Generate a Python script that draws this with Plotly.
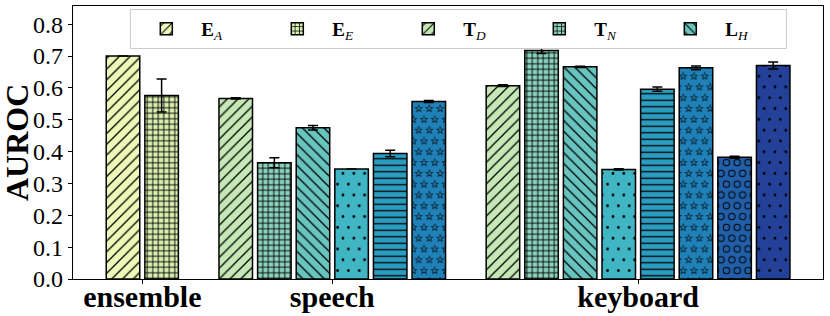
import math
import plotly.graph_objects as go

# ---------------- data ----------------
groups = ["ensemble", "speech", "keyboard"]
methods = ["E_A", "E_E", "T_D", "T_N", "L_H", "M_6", "M_7", "M_8", "M_9", "M_10"]
legend_labels = ["<b>E</b><sub><i>A</i></sub>", "<b>E</b><sub><i>E</i></sub>",
                 "<b>T</b><sub><i>D</i></sub>", "<b>T</b><sub><i>N</i></sub>",
                 "<b>L</b><sub><i>H</i></sub>"]

ensemble_methods = ["E_A", "E_E"]
ensemble_auroc = [0.700, 0.576]
ensemble_std = [0.0, 0.052]

speech_methods = ["T_D", "T_N", "L_H", "M_6", "M_7", "M_8"]
speech_auroc = [0.567, 0.365, 0.475, 0.345, 0.394, 0.557]
speech_std = [0.002, 0.016, 0.007, 0.0, 0.010, 0.003]

keyboard_methods = ["T_D", "T_N", "L_H", "M_6", "M_7", "M_8", "M_9", "M_10"]
keyboard_auroc = [0.607, 0.717, 0.666, 0.344, 0.596, 0.663, 0.382, 0.670]
keyboard_std = [0.003, 0.009, 0.002, 0.002, 0.007, 0.006, 0.003, 0.011]

y_ticks = [0.0, 0.1, 0.2, 0.3, 0.4, 0.5, 0.6, 0.7, 0.8]

# ---------------- styles ----------------
colors = ["#eef8b8", "#d9efb0", "#c5e8b6", "#8bd2bd", "#68c4be",
          "#40b5c4", "#2a9dc1", "#1f81b8", "#225fa9", "#24419a"]


def circle(cx, cy, r, sweep=0):
    return (f"M{cx - r:.2f},{cy:.2f}a{r:.2f},{r:.2f} 0 1,{sweep} {2 * r:.2f},0"
            f"a{r:.2f},{r:.2f} 0 1,{sweep} {-2 * r:.2f},0Z")


def star(cx, cy, R, r, reverse=False):
    pts = []
    for i in range(10):
        rad = R if i % 2 == 0 else r
        a = -math.pi / 2 + i * math.pi / 5
        pts.append((cx + rad * math.cos(a), cy + rad * math.sin(a)))
    if reverse:
        pts = pts[::-1]
    return "M" + "L".join(f"{x:.2f},{y:.2f}" for x, y in pts) + "Z"


def stagger_centers(s):
    return [(s / 2, s / 2), (1.5 * s, s / 2), (0, 1.5 * s), (s, 1.5 * s), (2 * s, 1.5 * s)]


S = 10.8
dots_path = "".join(circle(x, y, 1.4) for x, y in stagger_centers(S))
rings_path = "".join(circle(x, y, 3.7, 0) + circle(x, y, 2.7, 1) for x, y in stagger_centers(S))
stars_path = "".join(star(x, y, 4.4, 1.9) + star(x, y, 3.1, 1.1, True) for x, y in stagger_centers(S))

try:
    go.bar.marker.Pattern(path="M0,0L1,1Z")
    has_path = True
except Exception:
    has_path = False


def custom(path, fallback):
    if has_path:
        return dict(path=path, size=2 * S, solidity=0.5)
    return dict(shape=fallback, size=S, solidity=0.06)


patterns = [
    dict(shape="/", size=7.6, solidity=0.17),
    dict(shape="+", size=5.5, solidity=0.3),
    dict(shape="/", size=7.6, solidity=0.17),
    dict(shape="+", size=5.5, solidity=0.3),
    dict(shape="\\", size=7.6, solidity=0.17),
    custom(dots_path, "."),
    dict(shape="-", size=6.5, solidity=0.2),
    custom(stars_path, "x"),
    custom(rings_path, "."),
    custom(dots_path, "."),
]

# ---------------- positions (computed) ----------------
group_data = [
    (ensemble_methods, ensemble_auroc, ensemble_std),
    (speech_methods, speech_auroc, speech_std),
    (keyboard_methods, keyboard_auroc, keyboard_std),
]
gap = 1.92
bar_w = 0.868
positions = []
centers = []
start = 0.0
for mlist, _, _ in group_data:
    pos = [start + i for i in range(len(mlist))]
    positions.append(pos)
    centers.append(sum(pos) / len(pos))
    start = pos[-1] + gap

fig = go.Figure()
for mi, m in enumerate(methods):
    xs, ys, es = [], [], []
    for gi, (mlist, vals, stds) in enumerate(group_data):
        if m in mlist:
            k = mlist.index(m)
            xs.append(positions[gi][k])
            ys.append(vals[k])
            es.append(stds[k])
    pat = dict(fgcolor="black", bgcolor=colors[mi], fillmode="replace")
    pat.update(patterns[mi])
    fig.add_trace(go.Bar(
        x=xs, y=ys, width=bar_w,
        name=legend_labels[mi] if mi < 5 else m,
        showlegend=mi < 5,
        marker=dict(color=colors[mi], line=dict(color="black", width=1.5), pattern=pat),
        error_y=dict(type="data", array=es, visible=True, color="black", thickness=1.5, width=5),
    ))

serif = "Liberation Serif"
fig.update_layout(
    width=830, height=316,
    margin=dict(l=73, r=7, t=6, b=37, autoexpand=False),
    plot_bgcolor="white", paper_bgcolor="white",
    barmode="overlay",
    font=dict(family=serif, color="black"),
    legend=dict(
        orientation="h", x=0.0764, y=0.989, xanchor="left", yanchor="top",
        bordercolor="#cccccc", borderwidth=1, bgcolor="white",
        font=dict(family=serif, size=19, color="black"),
        entrywidth=56, entrywidthmode="pixels", itemwidth=60,
        traceorder="normal",
    ),
    xaxis=dict(
        range=[-1.295, 18.13], tickmode="array", tickvals=centers,
        ticktext=[f"<b>{g}</b>" for g in groups],
        ticks="outside", ticklen=4, tickcolor="black",
        showline=True, linecolor="black", linewidth=1.2, mirror=True,
        showgrid=False, zeroline=False, ticklabelstandoff=-13,
        tickfont=dict(family=serif, size=30, color="black"),
    ),
    yaxis=dict(
        range=[0, 0.857], tickmode="array", tickvals=y_ticks,
        ticktext=[f"{v:.1f}" for v in y_ticks],
        ticks="outside", ticklen=4, tickcolor="black",
        showline=True, linecolor="black", linewidth=1.2, mirror=True,
        showgrid=False, zeroline=False,
        tickfont=dict(family=serif, size=24, color="black"),
    ),
    annotations=[dict(
        text="<b>AUROC</b>", textangle=-90, showarrow=False,
        xref="paper", yref="paper", x=-0.0753, y=0.5, xanchor="center", yanchor="middle",
        font=dict(family=serif, size=32, color="black"),
    )],
)

fig.write_html("out.html", config={"displayModeBar": False},
               post_script="document.body.style.margin='0';")
